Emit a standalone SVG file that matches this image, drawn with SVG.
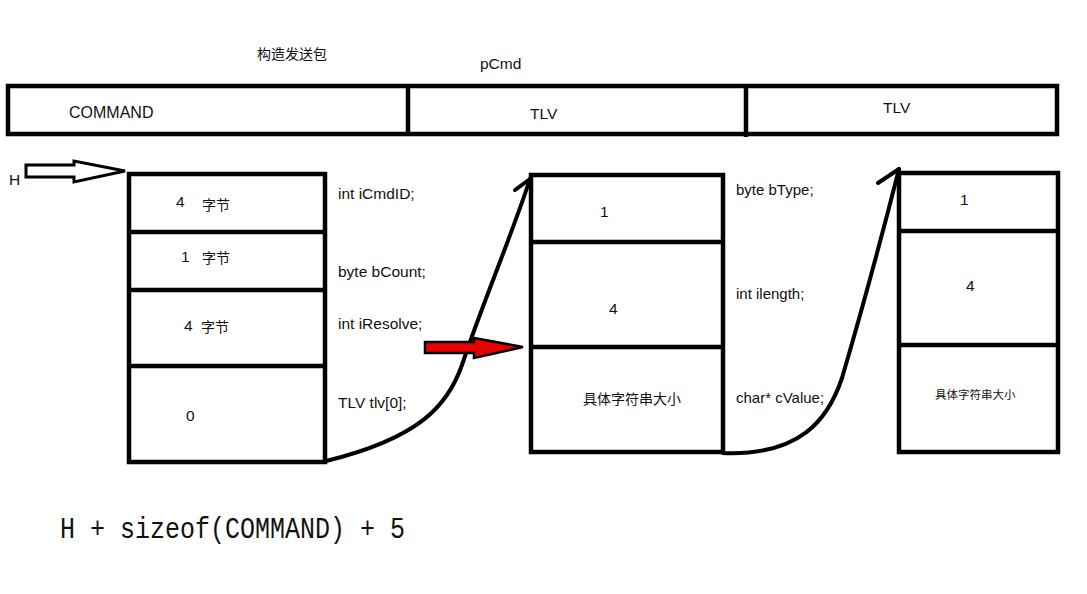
<svg xmlns="http://www.w3.org/2000/svg" width="1087" height="594" viewBox="0 0 1087 594">
<style>
.box{fill:none;stroke:#000;stroke-width:4.5}
.ln{stroke:#000;stroke-width:4.5;fill:none}
.t{font-family:"Liberation Sans","Noto Sans CJK SC",sans-serif;font-size:15.5px;fill:#111}
.cj{font-family:"Noto Sans CJK SC",sans-serif;font-size:14px;fill:#111}
.conn{fill:none;stroke:#000;stroke-width:4;stroke-linecap:round;stroke-linejoin:round}
</style>
<rect width="1087" height="594" fill="#fff"/>
<g id="title">
<text class="cj" x="257" y="59">构造发送包</text>
<text class="t" x="480" y="69">pCmd</text>
</g>
<g id="pcmd-bar">
<rect class="box" x="8" y="86" width="1049" height="48"/>
<line class="ln" x1="408" y1="86" x2="408" y2="135"/>
<line class="ln" x1="746" y1="86" x2="746" y2="137"/>
<text class="t" x="69" y="118" style="font-size:16px">COMMAND</text>
<text class="t" x="530" y="119">TLV</text>
<text class="t" x="883" y="113">TLV</text>
</g>
<g id="command-block">
<rect class="box" x="129" y="174" width="196" height="288"/>
<line class="ln" x1="129" y1="232" x2="325" y2="232"/>
<line class="ln" x1="129" y1="290" x2="325" y2="290"/>
<line class="ln" x1="129" y1="366" x2="325" y2="366"/>
<text class="t" x="176" y="207">4</text>
<text class="cj" x="202" y="210">字节</text>
<text class="t" x="181" y="262">1</text>
<text class="cj" x="202" y="263">字节</text>
<text class="t" x="184" y="331">4</text>
<text class="cj" x="201" y="332">字节</text>
<text class="t" x="186" y="421">0</text>
</g>
<g id="command-labels">
<text class="t" x="338" y="199">int iCmdID;</text>
<text class="t" x="338" y="277">byte bCount;</text>
<text class="t" x="338" y="329">int iResolve;</text>
<text class="t" x="338" y="408">TLV tlv[0];</text>
</g>
<g id="tlv-block-1">
<rect class="box" x="531" y="175" width="192" height="277"/>
<line class="ln" x1="531" y1="242" x2="723" y2="242"/>
<line class="ln" x1="531" y1="347" x2="723" y2="347"/>
<text class="t" x="600" y="217" fill="#3a2410">1</text>
<text class="t" x="609" y="314">4</text>
<text class="cj" x="583" y="404">具体字符串大小</text>
</g>
<g id="tlv-labels">
<text class="t" x="736" y="195" style="font-size:15px">byte bType;</text>
<text class="t" x="736" y="299" style="font-size:15px">int ilength;</text>
<text class="t" x="736" y="403" style="font-size:15px">char* cValue;</text>
</g>
<g id="tlv-block-2">
<rect class="box" x="899" y="173" width="159" height="279"/>
<line class="ln" x1="899" y1="231" x2="1058" y2="231"/>
<line class="ln" x1="899" y1="345" x2="1058" y2="345"/>
<text class="t" x="960" y="205" fill="#3a2410">1</text>
<text class="t" x="966" y="291">4</text>
<text class="cj" x="935" y="399" style="font-size:11.5px">具体字符串大小</text>
</g>
<g id="h-pointer">
<polygon points="26,165 74,165 74,161 125,171 74,182 74,177 26,177" fill="#fff" stroke="#000" stroke-width="3" stroke-linejoin="miter"/>
<text class="t" x="9" y="185" fill="#3a1a10">H</text>
</g>
<g id="connectors">
<path class="conn" d="M326,461 C420,438 448,405 462,365 C480,310 510,240 530,179"/>
<path class="conn" d="M515,190 L530,179"/>
<path class="conn" d="M723,453 C800,456 828,420 842,378 C862,310 886,220 899,169"/>
<path class="conn" d="M878,183 L899,169"/>
<polygon points="425,342 474,342 474,338 523,347 474,358 474,353 425,353" fill="#e60000" stroke="#000" stroke-width="2.5"/>
</g>
<g id="formula">
<text transform="translate(60,538) scale(1,1.2)" x="0" y="0" style="font-family:'Liberation Mono',monospace;font-size:25px;fill:#111">H + sizeof(COMMAND) + 5</text>
</g>
</svg>
